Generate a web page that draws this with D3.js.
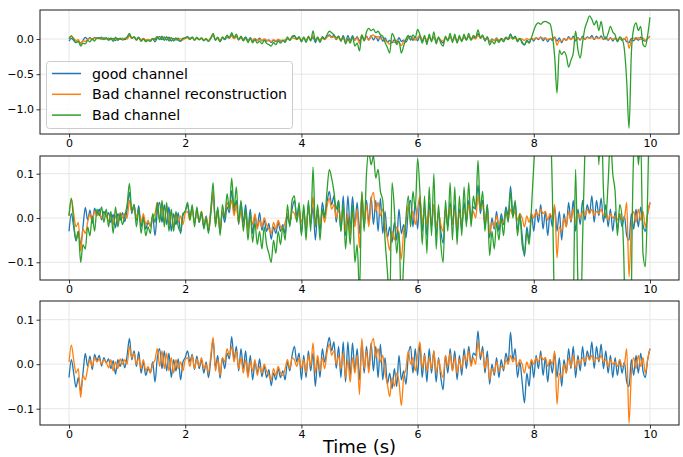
<!DOCTYPE html>
<html><head><meta charset="utf-8">
<script src="https://cdn.jsdelivr.net/npm/d3@7"></script>
<style>body{margin:0;background:#fff}svg{display:block}</style>
</head><body><svg id="c" width="683" height="457"></svg>
<script>
// sample spacing in seconds
const dt = 0.04;
const good = [
-0.030,0.010,-0.020,-0.052,-0.030,-0.060,-0.020,0.024,-0.005,0.018,-0.012,0.022,0.008,0.020,-0.004,0.015,0.003,0.012,-0.010,0.008,-0.022,0.010,-0.005,0.012,-0.008,
0.020,0.058,0.010,0.030,-0.005,0.028,-0.020,0.005,-0.025,-0.010,-0.018,0.005,-0.040,0.015,0.035,-0.010,0.030,-0.015,0.025,-0.030,0.010,-0.015,0.012,-0.035,0.005,
0.015,0.030,0.005,0.022,-0.012,0.018,-0.010,0.010,-0.020,0.005,-0.030,0.010,0.055,-0.008,0.020,-0.032,0.015,-0.010,0.025,0.012,0.062,0.010,0.040,-0.015,0.035,
-0.010,0.030,-0.025,0.020,-0.035,0.005,-0.020,0.012,-0.028,-0.005,-0.030,-0.012,-0.048,-0.020,-0.035,-0.010,-0.030,-0.015,-0.035,0.005,-0.015,0.020,0.040,0.005,0.025,
-0.035,0.020,-0.030,0.030,-0.015,0.025,-0.050,0.015,-0.030,0.035,0.005,0.035,0.060,0.030,0.050,-0.010,0.040,-0.030,0.050,-0.040,0.050,-0.025,0.048,-0.015,0.035,
-0.035,0.050,-0.020,0.040,-0.010,0.048,-0.015,0.040,-0.030,0.045,-0.035,0.015,-0.045,-0.020,-0.055,-0.010,-0.050,0.020,-0.035,-0.015,-0.045,0.020,0.040,-0.020,0.035,
-0.025,0.045,-0.030,0.025,-0.040,0.035,-0.020,0.030,-0.040,0.015,-0.030,-0.057,0.020,-0.020,0.035,-0.015,0.030,-0.035,0.020,-0.025,0.035,-0.010,0.040,0.000,0.025,
0.020,0.075,0.010,0.040,-0.020,0.030,-0.045,0.000,-0.025,0.015,-0.030,0.010,-0.015,0.025,0.005,0.072,0.010,0.035,-0.030,0.005,-0.040,-0.087,-0.020,-0.050,0.010,
-0.030,0.020,-0.010,0.030,-0.025,0.015,-0.040,0.010,-0.020,0.025,-0.030,0.015,-0.050,0.010,-0.020,0.035,-0.010,0.040,-0.030,0.020,-0.015,0.040,-0.005,0.030,0.010,
0.050,-0.010,0.040,0.005,0.045,-0.010,0.030,-0.020,0.020,-0.030,0.015,-0.025,0.010,-0.020,0.005,-0.040,-0.050,0.010,-0.025,0.020,-0.020,0.025,-0.015,-0.030,0.010,
0.035];
const recon = [
0.005,0.043,0.010,-0.020,-0.010,-0.075,-0.025,-0.035,-0.010,0.010,-0.005,0.015,0.005,0.012,0.000,0.010,0.005,-0.008,0.010,-0.015,0.005,-0.010,0.012,0.000,0.010,
0.000,0.040,0.015,0.025,0.000,0.015,-0.010,0.010,-0.015,-0.005,-0.020,0.000,0.010,0.035,-0.005,0.030,-0.010,0.025,-0.015,0.015,-0.020,0.010,-0.010,0.005,-0.015,
0.010,0.015,-0.005,0.020,-0.010,0.012,-0.005,0.015,-0.010,0.000,-0.020,0.020,0.060,-0.015,0.010,-0.025,0.015,0.005,0.035,0.020,0.040,0.005,0.030,-0.010,0.015,
-0.020,0.010,-0.030,0.005,-0.015,0.010,-0.025,-0.005,-0.020,0.000,-0.015,-0.025,-0.035,-0.010,-0.025,-0.005,-0.020,-0.025,-0.010,0.010,-0.010,0.015,0.010,-0.005,0.015,
-0.010,0.010,-0.020,0.020,-0.005,0.048,-0.020,0.020,-0.015,0.015,-0.010,0.025,0.045,0.020,0.030,0.000,0.020,-0.010,0.025,-0.030,0.010,-0.040,0.015,-0.020,0.020,
-0.068,0.058,-0.010,0.030,-0.020,0.040,0.058,0.015,0.035,0.005,0.020,-0.020,-0.045,-0.073,-0.030,-0.050,-0.020,-0.040,-0.093,-0.030,-0.010,0.030,0.000,0.015,-0.015,
0.020,0.050,-0.010,0.020,-0.015,0.015,-0.010,0.030,-0.020,0.010,-0.015,-0.030,0.020,-0.005,0.025,-0.015,0.015,-0.020,0.010,-0.010,0.020,0.005,0.030,-0.005,0.015,
0.000,0.050,0.020,0.030,-0.010,0.015,-0.035,-0.010,-0.020,0.005,-0.015,-0.005,-0.010,0.010,0.000,0.020,0.005,0.015,-0.005,0.010,0.000,-0.020,0.005,-0.010,0.010,
0.000,0.015,0.005,0.020,0.010,0.015,-0.005,0.010,0.000,0.030,-0.090,-0.020,-0.030,0.000,-0.020,0.015,-0.005,0.020,-0.010,0.010,0.000,0.015,0.005,0.020,0.010,
0.020,0.005,0.015,0.010,0.020,0.005,0.010,-0.005,0.010,0.000,0.005,-0.005,0.010,-0.005,0.000,0.035,-0.133,-0.020,0.015,-0.010,0.020,-0.005,0.015,-0.020,0.010,
0.035];
const bad = [
0.005,0.045,-0.010,-0.050,-0.030,-0.100,-0.060,-0.070,-0.020,-0.040,0.005,-0.030,0.020,0.005,0.025,-0.010,0.020,-0.020,0.015,-0.035,0.025,-0.020,0.010,-0.015,0.005,
0.030,0.078,0.015,0.030,-0.020,0.020,-0.035,0.000,-0.040,-0.020,-0.035,0.010,-0.010,0.035,-0.010,0.040,-0.020,0.035,-0.030,0.020,-0.030,0.015,-0.020,-0.030,0.010,
0.015,0.035,-0.005,0.030,-0.020,0.025,-0.010,0.015,-0.025,0.000,-0.035,0.015,0.080,-0.020,0.025,-0.040,0.030,0.000,0.055,0.020,0.090,0.020,0.070,-0.010,0.040,
-0.030,0.020,-0.050,0.010,-0.055,-0.010,-0.060,-0.030,-0.070,-0.020,-0.060,-0.080,-0.100,-0.050,-0.080,-0.030,-0.060,-0.020,-0.050,0.030,-0.020,0.040,0.050,-0.010,0.035,
-0.040,0.030,-0.050,0.040,-0.030,0.115,-0.020,0.030,-0.050,0.020,0.000,0.060,0.110,0.090,0.060,0.020,0.040,-0.030,0.030,-0.070,0.000,-0.060,0.030,-0.100,-0.060,
-0.170,0.060,-0.030,0.100,0.150,0.120,0.140,0.090,0.110,0.060,0.040,-0.050,-0.120,-0.200,0.080,0.020,-0.080,-0.030,-0.200,-0.100,0.000,0.050,-0.020,0.060,0.020,
0.135,0.060,-0.060,0.050,-0.080,0.070,-0.040,0.100,-0.070,0.030,-0.060,-0.100,0.040,-0.030,0.080,-0.050,0.070,-0.060,0.050,-0.040,0.070,-0.020,0.080,-0.020,0.050,
0.020,0.130,0.020,0.060,-0.030,0.030,-0.085,-0.030,-0.070,-0.010,-0.050,0.000,-0.040,0.020,-0.010,0.060,0.000,0.040,-0.040,0.010,-0.060,-0.080,-0.030,-0.060,0.020,
0.120,0.200,0.230,0.210,0.240,0.250,0.235,0.215,0.060,-0.250,-0.770,-0.160,-0.220,-0.180,-0.240,-0.400,-0.300,-0.200,0.110,-0.150,-0.270,-0.050,0.150,0.250,0.330,
0.280,0.200,0.260,0.120,0.250,0.060,0.000,0.080,0.180,0.100,0.060,-0.040,0.030,0.000,-0.150,-0.600,-1.270,-0.200,0.150,0.230,0.120,0.180,-0.080,-0.110,0.050,
0.310];
const xTicks = [0, 2, 4, 6, 8, 10];
const yTicksFull = [0.0, -0.5, -1.0];
const yTicksZoom = [0.1, 0.0, -0.1];
const seriesNames = ["good channel", "Bad channel reconstruction", "Bad channel"];
const seriesColors = ["#1f77b4", "#ff7f0e", "#2ca02c"];
const xLabel = "Time (s)";

const svg = d3.select("#c");
const FONT = "DejaVu Sans, sans-serif";
const L = 40, R = 679;
const x = d3.scaleLinear().domain([-0.5, 10.5]).range([L, R]);
const allSeries = [good, recon, bad];

const panels = [
  {top: 10, bottom: 134, dom: [-1.351, 0.4125], ticks: yTicksFull, idx: [0, 1, 2]},
  {top: 156, bottom: 280, dom: [-0.14, 0.14], ticks: yTicksZoom, idx: [0, 1, 2]},
  {top: 301, bottom: 425, dom: [-0.1366, 0.142], ticks: yTicksZoom, idx: [0, 1]}
];

panels.forEach((p, pi) => {
  const y = d3.scaleLinear().domain(p.dom).range([p.bottom, p.top]);
  const g = svg.append("g");
  // grid
  g.append("g").selectAll("line").data(xTicks).join("line")
    .attr("x1", d => x(d)).attr("x2", d => x(d))
    .attr("y1", p.top).attr("y2", p.bottom)
    .attr("stroke", "#e6e6e6").attr("stroke-width", 1);
  g.append("g").selectAll("line").data(p.ticks).join("line")
    .attr("x1", L).attr("x2", R)
    .attr("y1", d => y(d)).attr("y2", d => y(d))
    .attr("stroke", "#e6e6e6").attr("stroke-width", 1);
  // clip
  const cid = "clip" + pi;
  svg.append("clipPath").attr("id", cid).append("rect")
    .attr("x", L).attr("y", p.top).attr("width", R - L).attr("height", p.bottom - p.top);
  const line = d3.line().x((d, i) => x(i * dt)).y(d => y(d)).curve(d3.curveMonotoneX);
  const lg = g.append("g").attr("clip-path", `url(#${cid})`);
  p.idx.forEach(k => {
    lg.append("path").attr("d", line(allSeries[k]))
      .attr("fill", "none").attr("stroke", seriesColors[k])
      .attr("stroke-width", 1.3).attr("stroke-linejoin", "round");
  });
  // axes
  const ax = g.append("g").attr("transform", `translate(0,${p.bottom})`)
    .call(d3.axisBottom(x).tickValues(xTicks).tickFormat(d3.format("d")).tickSize(3.5).tickPadding(2));
  const ay = g.append("g").attr("transform", `translate(${L},0)`)
    .call(d3.axisLeft(y).tickValues(p.ticks).tickFormat(d3.format(".1f")).tickSize(3.5).tickPadding(2.5));
  [ax, ay].forEach(a => {
    a.select(".domain").remove();
    a.selectAll("text").attr("font-family", FONT).attr("font-size", 11).attr("fill", "#000");
    a.selectAll("line").attr("stroke", "#000").attr("stroke-width", 0.8);
  });
  // frame
  g.append("rect").attr("x", L).attr("y", p.top).attr("width", R - L).attr("height", p.bottom - p.top)
    .attr("fill", "none").attr("stroke", "#1a1a1a").attr("stroke-width", 1);

  if (pi === 0) {
    const leg = g.append("g");
    leg.append("rect").attr("x", 46.5).attr("y", 61.5).attr("width", 246).attr("height", 67)
      .attr("rx", 3).attr("fill", "#fff").attr("fill-opacity", 0.85)
      .attr("stroke", "#cccccc").attr("stroke-width", 1);
    seriesNames.forEach((name, k) => {
      const yy = 73.5 + k * 20.8;
      leg.append("line").attr("x1", 52).attr("x2", 81).attr("y1", yy).attr("y2", yy)
        .attr("stroke", seriesColors[k]).attr("stroke-width", 1.5);
      leg.append("text").attr("x", 92).attr("y", yy).attr("dy", "0.36em")
        .attr("font-family", FONT).attr("font-size", 14.2).attr("fill", "#000").text(name);
    });
  }
});

svg.append("text").attr("x", (L + R) / 2).attr("y", 453).attr("text-anchor", "middle")
  .attr("font-family", FONT).attr("font-size", 18).attr("fill", "#000").text(xLabel);
</script>
</body></html>
